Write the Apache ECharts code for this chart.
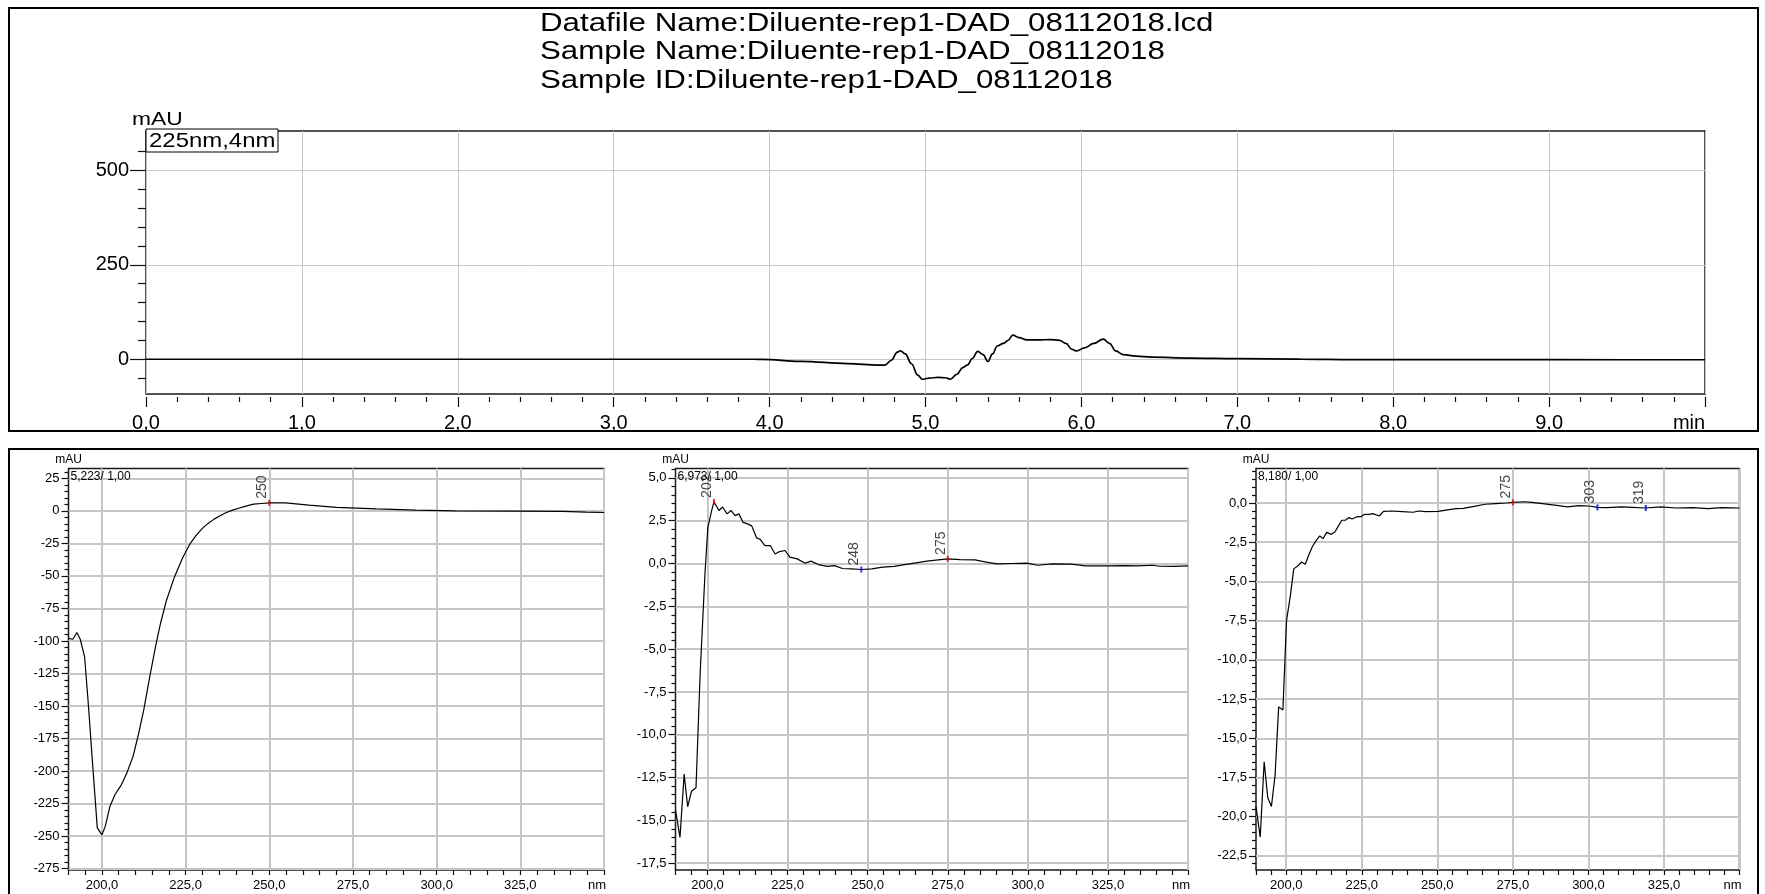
<!DOCTYPE html>
<html>
<head>
<meta charset="utf-8">
<title>Diluente-rep1-DAD_08112018</title>
<script src="https://cdn.jsdelivr.net/npm/echarts@6/dist/echarts.min.js"></script>
<style>
  html, body { margin: 0; padding: 0; background: #ffffff; }
  #chart { width: 1765px; height: 894px; }
</style>
</head>
<body>
<div id="chart"></div>
<script>
// ---- Chromatogram, 225 nm / 4 nm ----
const chromTime = [0, 1, 2, 3, 3.9, 3.95, 4.2, 4.5, 4.7, 4.74, 4.78, 4.82, 4.84, 4.87, 4.91, 4.95, 4.98, 5.02, 5.08, 5.13, 5.16, 5.2, 5.24, 5.27, 5.3, 5.335, 5.37, 5.4, 5.43, 5.46, 5.5, 5.53, 5.56, 5.6, 5.65, 5.72, 5.8, 5.86, 5.9, 5.94, 5.97, 6.02, 6.08, 6.14, 6.18, 6.22, 6.27, 6.35, 6.45, 6.7, 7, 7.4, 7.75, 8.5, 9.5, 10];
const chromMAU = [0, 0, 0, 0, 0, -0.5, -5.5, -11.5, -15.5, -15.5, -3, 19, 22, 14, -12, -42, -53, -50, -48, -49, -53, -40, -22, -15, 2, 21, 12, -6, 14, 35, 42, 50, 64, 57, 51, 51, 52, 50, 42, 26, 22, 30, 42, 53, 42, 22, 12, 8, 5.5, 3, 1.8, 0.5, -1, -1.2, -1.3, -1.3];
const chromTicksY = [0, 250, 500];
const chromMinorTicksY = [-50, 50, 100, 150, 200, 300, 350, 400, 450, 550];
const chromRangeY = [-92, 604];
const chromTitle = [
  'Datafile Name:Diluente-rep1-DAD_08112018.lcd',
  'Sample Name:Diluente-rep1-DAD_08112018',
  'Sample ID:Diluente-rep1-DAD_08112018'
];
const chromChannel = '225nm,4nm';

// ---- UV spectra ----
const nmRange = [190, 350];
const nmTicks = [200, 225, 250, 275, 300, 325, 350];

const spec1Head = '5,223/ 1,00';
const spec1Nm = [190, 191.3, 192.5, 193.5, 194.8, 195.9, 197.1, 198.6, 200, 201, 202.4, 203.9, 205.7, 207.5, 209.3, 211, 212.5, 214.3, 216, 217.5, 219.3, 221.7, 224, 226.4, 228.2, 230, 231.7, 233.5, 235.3, 237, 238.8, 240.6, 243, 245.3, 247.7, 250, 254.8, 261.9, 270.1, 282, 293.8, 305.6, 323.3, 337.5, 344.6, 350];
const spec1MAU = [-98, -98.7, -93.5, -98.7, -112, -147.7, -191, -243.6, -249, -242.3, -227, -218, -211, -201, -188.6, -170.7, -152.8, -127.3, -104.3, -86.4, -68.5, -50.6, -36.6, -25, -18.7, -13.5, -9.7, -6.4, -3.8, -1.5, 0.3, 1.8, 3.6, 5.1, 5.6, 6.1, 6.1, 4.3, 2.6, 1.5, 0.5, 0, -0.3, -0.5, -1, -1.3];
const spec1TicksY = [-275, -250, -225, -200, -175, -150, -125, -100, -75, -50, -25, 0, 25];
const spec1RangeY = [-276, 32.5];
const spec1Marks = [[250, 6.1, 'max']];

const spec2Head = '6,973/ 1,00';
const spec2Nm = [190, 191.4, 192.7, 193.8, 195, 196.4, 197.7, 199.2, 200.1, 201.3, 202, 203.6, 204.7, 206.1, 207.3, 208.6, 209.8, 211.1, 212.7, 213.8, 215.3, 216.5, 217.9, 219.6, 221.1, 222.5, 224.2, 225.7, 228, 230.5, 232.3, 234.6, 237.4, 239.7, 242.1, 244.9, 248, 251.3, 254.7, 258.2, 261.6, 265.1, 268.5, 272, 275, 278.9, 283.5, 287, 290.4, 295, 299.7, 303.1, 307.7, 313.5, 318.1, 325, 330, 334.2, 339, 341.1, 345.7, 350];
const spec2MAU = [-14.4, -16, -12.3, -14.2, -13.3, -13.1, -6.4, -0.6, 2.1, 3.1, 3.6, 3.1, 3.3, 2.9, 3.1, 2.8, 2.9, 2.4, 2.3, 2.2, 1.5, 1.4, 1.05, 1.05, 0.56, 0.7, 0.76, 0.37, 0.27, 0.02, 0.14, -0.06, -0.17, -0.12, -0.29, -0.31, -0.35, -0.31, -0.21, -0.17, -0.06, 0.04, 0.14, 0.21, 0.27, 0.23, 0.21, 0.08, -0.02, 0, 0.02, -0.1, -0.02, -0.04, -0.14, -0.14, -0.12, -0.14, -0.1, -0.16, -0.17, -0.14];
const spec2TicksY = [-17.5, -15, -12.5, -10, -7.5, -5, -2.5, 0, 2.5, 5];
const spec2RangeY = [-17.9, 5.55];
const spec2Marks = [[202, 3.6, 'max'], [248, -0.35, 'min'], [275, 0.27, 'max']];

const spec3Head = '8,180/ 1,00';
const spec3Nm = [190, 191.4, 192.7, 193.9, 195.1, 196.3, 197.5, 198.9, 200.1, 201.3, 202.5, 203.9, 205.1, 206.3, 207.5, 208.7, 209.9, 211.1, 212.2, 213.4, 214.9, 216.1, 217.2, 218.4, 219.6, 220.8, 221.8, 223.2, 224.7, 225.9, 227.5, 228.7, 230.8, 232.2, 234.8, 238.4, 242, 243.8, 246.1, 250.3, 253.9, 256.2, 258.6, 262.2, 265.8, 269.3, 272.9, 275, 278.8, 281.2, 284.8, 289.5, 293.1, 296.7, 300.2, 303, 306.2, 310.9, 314.5, 319, 324, 328.8, 334.7, 339.5, 344.2, 350];
const spec3MAU = [-19.35, -21.3, -16.5, -18.8, -19.35, -17.4, -13, -13.2, -7.5, -6, -4.2, -4, -3.76, -3.9, -3.3, -2.76, -2.4, -2.1, -2.27, -1.87, -2, -1.85, -1.49, -1.1, -1.1, -0.93, -1.02, -0.89, -0.87, -0.72, -0.72, -0.68, -0.83, -0.53, -0.51, -0.55, -0.59, -0.51, -0.55, -0.53, -0.42, -0.36, -0.34, -0.21, -0.08, -0.04, 0, 0.04, 0.08, 0.04, -0.04, -0.15, -0.25, -0.17, -0.19, -0.28, -0.3, -0.25, -0.28, -0.32, -0.25, -0.32, -0.3, -0.36, -0.3, -0.32];
const spec3TicksY = [-22.5, -20, -17.5, -15, -12.5, -10, -7.5, -5, -2.5, 0];
const spec3RangeY = [-23.4, 2.2];
const spec3Marks = [[275, 0.04, 'max'], [303, -0.28, 'min'], [319, -0.32, 'min']];

// ---- styling ----
const MAIN_FONT = "'Liberation Sans', Arial, sans-serif";
const NARROW_FONT = "'Liberation Sans Narrow', 'Arial Narrow', 'Liberation Sans', Arial, sans-serif";
const GRID_GRAY = '#c6c6c6';
const FRAME = '#1a1a1a';
const NO_LINE = { show: false, onZero: false };

const zip = (xs, ys) => xs.map((x, i) => [x, ys[i]]);
const comma = (v, d) => v.toFixed(d).replace('.', ',');

// minor tick positions: `parts` subdivisions of the major step, inside [lo, hi]
function minorTicks(major, parts, lo, hi) {
  const step = Math.abs(major[1] - major[0]) / parts;
  const out = [];
  for (let k = Math.ceil(lo / step - 1e-9); k * step <= hi + 1e-9; k++) {
    const v = Math.round(k * step * 1000) / 1000;
    if (!major.some(m => Math.abs(m - v) < 1e-6)) out.push(v);
  }
  return out;
}
function stepTicks(lo, hi, step) {
  const out = [];
  for (let k = Math.ceil(lo / step - 1e-9); k * step <= hi + 1e-9; k++) out.push(Math.round(k * step * 1000) / 1000);
  return out;
}

const spectra = [
  { nm: spec1Nm, mau: spec1MAU, ticks: spec1TicksY, range: spec1RangeY, marks: spec1Marks, head: spec1Head, dec: 0,
    grid: { left: 68.5, top: 468.5, width: 535.5, height: 401.5 } },
  { nm: spec2Nm, mau: spec2MAU, ticks: spec2TicksY, range: spec2RangeY, marks: spec2Marks, head: spec2Head, dec: 1,
    grid: { left: 675.5, top: 468.5, width: 512.5, height: 401.5 } },
  { nm: spec3Nm, mau: spec3MAU, ticks: spec3TicksY, range: spec3RangeY, marks: spec3Marks, head: spec3Head, dec: 1,
    grid: { left: 1256, top: 468.5, width: 483.5, height: 401.5 } }
];

const grids = [
  { left: 146, top: 131, width: 1559, height: 263, show: true, borderColor: FRAME, borderWidth: 1.5, backgroundColor: 'transparent' }
];
const xAxes = [{
  gridIndex: 0, type: 'value', position: 'bottom', min: 0, max: 10, interval: 1, offset: 3,
  axisLine: NO_LINE,
  axisTick: { length: 10, lineStyle: { color: '#111', width: 1.2 } },
  minorTick: { show: true, splitNumber: 5, length: 5, lineStyle: { color: '#111', width: 1.2 } },
  axisLabel: {
    fontFamily: MAIN_FONT, fontSize: 20, color: '#000', margin: 16, showMinLabel: true, showMaxLabel: true,
    formatter: v => v === 10 ? '{u|min}' : comma(v, 1),
    rich: { u: { fontFamily: MAIN_FONT, fontSize: 20, color: '#000', padding: [0, 32, 0, 0] } }
  },
  splitLine: { show: true, lineStyle: { color: GRID_GRAY, width: 1 } }
}];
const yAxes = [{
  gridIndex: 0, type: 'value', position: 'left', min: chromRangeY[0], max: chromRangeY[1],
  axisLine: NO_LINE,
  axisTick: { show: true, length: 16, customValues: chromTicksY, lineStyle: { color: '#111', width: 1.2 } },
  axisLabel: { customValues: chromTicksY, fontFamily: MAIN_FONT, fontSize: 20, color: '#000', margin: 17, formatter: v => String(v) },
  splitLine: { show: true, lineStyle: { color: GRID_GRAY, width: 1 } }
}, {
  gridIndex: 0, type: 'value', position: 'left', min: chromRangeY[0], max: chromRangeY[1],
  axisLine: NO_LINE,
  axisTick: { show: true, length: 8, customValues: chromMinorTicksY, lineStyle: { color: '#111', width: 1.2 } },
  axisLabel: { show: false }, splitLine: { show: false }
}];
const series = [{
  type: 'line', xAxisIndex: 0, yAxisIndex: 0, data: zip(chromTime, chromMAU),
  showSymbol: false, symbol: 'none', smooth: 0.4, smoothMonotone: 'x',
  lineStyle: { color: '#000', width: 1.7 }, silent: true, z: 5
}];

const graphics = [
  { type: 'rect', silent: true, shape: { x: 9, y: 8, width: 1749, height: 423 }, style: { fill: 'none', stroke: '#000', lineWidth: 2 } },
  { type: 'rect', silent: true, shape: { x: 9, y: 449, width: 1749, height: 470 }, style: { fill: 'none', stroke: '#000', lineWidth: 2 } },
  { type: 'rect', silent: true, z: 10, shape: { x: 146, y: 129, width: 132, height: 23 }, style: { fill: '#fff', stroke: '#000', lineWidth: 1 } },
  { type: 'text', silent: true, z: 11, x: 149, y: 141, scaleX: 1.14,
    style: { text: chromChannel, fontFamily: MAIN_FONT, fontSize: 21, fill: '#000', verticalAlign: 'middle' } },
  { type: 'text', silent: true, x: 132, y: 120, scaleX: 1.2,
    style: { text: 'mAU', fontFamily: MAIN_FONT, fontSize: 19, fill: '#000', verticalAlign: 'middle' } }
];
chromTitle.forEach((t, i) => {
  graphics.push({ type: 'text', silent: true, x: 540, y: 24.5 + i * 28.1, scaleX: 1.25,
    style: { text: t, fontFamily: MAIN_FONT, fontSize: 25, fill: '#000', verticalAlign: 'middle' } });
});

const nmMinor = stepTicks(nmRange[0], nmRange[1], 5);

spectra.forEach((s, i) => {
  const g = i + 1;
  grids.push(Object.assign({ show: true, borderColor: FRAME, borderWidth: 1.5, backgroundColor: 'transparent' }, s.grid));
  // labelled axis: labels, grid lines
  xAxes.push({
    gridIndex: g, type: 'value', position: 'bottom', min: nmRange[0], max: nmRange[1],
    axisLine: NO_LINE,
    axisTick: { show: false, customValues: nmTicks },
    axisLabel: {
      customValues: nmTicks, fontFamily: NARROW_FONT, fontSize: 13, color: '#000', margin: 9,
      formatter: v => v === nmRange[1] ? '{u|nm}' : comma(v, 1),
      rich: { u: { fontFamily: NARROW_FONT, fontSize: 13, color: '#000', padding: [0, 14, 0, 0] } }
    },
    splitLine: { show: true, lineStyle: { color: GRID_GRAY, width: 2 } }
  });
  // 5 nm tick marks
  xAxes.push({
    gridIndex: g, type: 'value', position: 'bottom', min: nmRange[0], max: nmRange[1],
    axisLine: NO_LINE,
    axisTick: { show: true, length: 5, customValues: nmMinor, lineStyle: { color: '#111', width: 1.2 } },
    axisLabel: { show: false }, splitLine: { show: false }
  });
  yAxes.push({
    gridIndex: g, type: 'value', position: 'left', min: s.range[0], max: s.range[1],
    name: 'mAU', nameLocation: 'end', nameGap: 3,
    nameTextStyle: { fontFamily: NARROW_FONT, fontSize: 12, color: '#000' },
    axisLine: NO_LINE,
    axisTick: { show: true, length: 7, customValues: s.ticks, lineStyle: { color: '#111', width: 1.2 } },
    axisLabel: { customValues: s.ticks, fontFamily: NARROW_FONT, fontSize: 13, color: '#000', margin: 9,
      formatter: v => s.dec ? comma(v, s.dec) : String(v) },
    splitLine: { show: true, lineStyle: { color: GRID_GRAY, width: 2 } }
  });
  yAxes.push({
    gridIndex: g, type: 'value', position: 'left', min: s.range[0], max: s.range[1],
    axisLine: NO_LINE,
    axisTick: { show: true, length: 4, customValues: minorTicks(s.ticks, 5, s.range[0], s.range[1]), lineStyle: { color: '#111', width: 1.2 } },
    axisLabel: { show: false }, splitLine: { show: false }
  });
  const xi = 1 + i * 2, yi = 2 + i * 2;
  series.push({
    type: 'line', xAxisIndex: xi, yAxisIndex: yi, data: zip(s.nm, s.mau),
    showSymbol: false, symbol: 'none', lineStyle: { color: '#000', width: 1.2 }, silent: true, z: 5
  });
  series.push({
    type: 'scatter', xAxisIndex: xi, yAxisIndex: yi, silent: true, z: 6,
    symbol: 'rect', symbolSize: [2, 6],
    data: s.marks.map(m => ({ value: [m[0], m[1]], itemStyle: { color: m[2] === 'max' ? '#e00000' : '#0000e0' } })),
    label: {
      show: true, position: 'top', distance: 1, rotate: 90, align: 'left', verticalAlign: 'bottom',
      fontFamily: MAIN_FONT, fontSize: 14, color: '#111',
      formatter: p => String(p.value[0])
    }
  });
  graphics.push({ type: 'text', silent: true, z: 10, x: s.grid.left + 2, y: s.grid.top + 8,
    style: { text: s.head, fontFamily: NARROW_FONT, fontSize: 12, fill: '#000', verticalAlign: 'middle' } });
});

const chart = echarts.init(document.getElementById('chart'), null, { renderer: 'canvas' });
chart.setOption({
  animation: false,
  backgroundColor: '#ffffff',
  grid: grids,
  xAxis: xAxes,
  yAxis: yAxes,
  series: series,
  graphic: graphics
});
</script>
</body>
</html>
